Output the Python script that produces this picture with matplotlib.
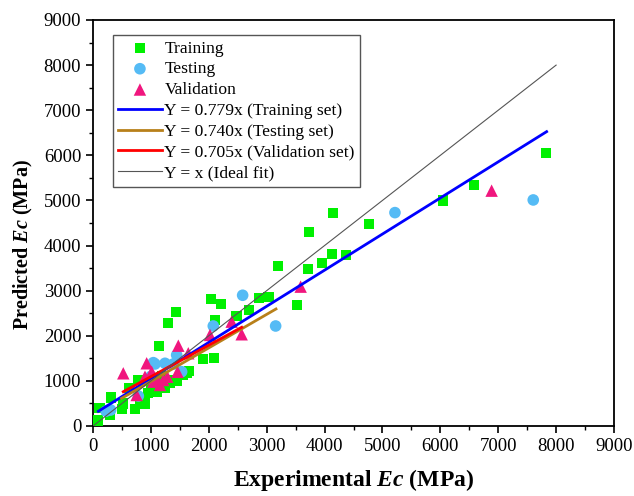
import matplotlib
matplotlib.use("Agg")
import matplotlib.pyplot as plt
from matplotlib.ticker import MultipleLocator
import numpy as np

# 实验值 / 预测值 (MPa)
train_x = [35, 92, 110, 305, 294, 495, 725, 812, 523, 627, 782, 898, 955, 1013,
           1100, 1100, 1244, 1330, 1330, 1200, 1450, 1140, 1433, 1301, 1560, 1618,
           1663, 1905, 2090, 2038, 2216, 2107, 2481, 2694, 2873, 3034, 3200, 3518,
           3719, 3736, 3950, 4128, 4370, 4150, 4772, 6050, 6586, 7830]
train_y = [130, 120, 400, 630, 250, 370, 370, 540, 500, 836, 1020, 500, 725, 870,
           750, 836, 836, 960, 1020, 1100, 1000, 1780, 2521, 2277, 1131, 1168,
           1226, 1479, 1514, 2809, 2705, 2350, 2439, 2572, 2831, 2860, 3548, 2676,
           3481, 4295, 3621, 3820, 3785, 4716, 4479, 5000, 5344, 6047]

test_x = [225, 305, 783, 1000, 1042, 1071, 1244, 1387, 1445, 1531, 2078, 2585,
          3155, 5216, 7605]
test_y = [330, 355, 665, 1100, 1404, 1375, 1390, 1375, 1574, 1204, 2217, 2898,
          2217, 4730, 5011]

val_x = [523, 754, 898, 927, 1013, 1042, 1100, 1157, 1214, 1283, 1460, 1474,
         1646, 2021, 2395, 2568, 3587, 6886]
val_y = [1168, 687, 1093, 1390, 1204, 982, 1058, 909, 1020, 1093, 1200, 1780,
         1612, 2018, 2313, 2033, 3089, 5217]

# 拟合线端点
fit_train_x = [92, 7836]
fit_train_y = [326, 6525]
fit_test_x = [495, 3161]
fit_test_y = [614, 2594]
fit_val_x = [523, 2568]
fit_val_y = [760, 2188]
ideal_x = [0, 8000]
ideal_y = [0, 8000]

plt.rcParams["font.family"] = ["Liberation Serif", "DejaVu Serif"]
plt.rcParams["mathtext.fontset"] = "custom"
plt.rcParams["mathtext.it"] = "Liberation Serif:italic:bold"
plt.rcParams["mathtext.bf"] = "Liberation Serif:bold"

fig = plt.figure(figsize=(6.34, 4.96), dpi=100)
ax = fig.add_axes([93 / 634, 1 - 426 / 496, 521 / 634, 406 / 496])

ax.scatter(train_x, train_y, marker="s", s=55, color="#00f000", edgecolors="none",
           label="Training", zorder=3)
ax.scatter(test_x, test_y, marker="o", s=70, color="#55bbf5", edgecolors="none",
           label="Testing", zorder=3)
ax.scatter(val_x, val_y, marker="^", s=80, color="#f0167e", edgecolors="none",
           label="Validation", zorder=3)

ax.plot(fit_train_x, fit_train_y, color="#0000ff", lw=2.0,
        label="Y = 0.779x (Training set)", zorder=4)
ax.plot(fit_test_x, fit_test_y, color="#b8801a", lw=2.0,
        label="Y = 0.740x (Testing set)", zorder=4)
ax.plot(fit_val_x, fit_val_y, color="#ff0000", lw=2.0,
        label="Y = 0.705x (Validation set)", zorder=4)
ax.plot(ideal_x, ideal_y, color="#555555", lw=0.8,
        label="Y = x (Ideal fit)", zorder=4)

ax.set_xlim(0, 9000)
ax.set_ylim(0, 9000)
ax.xaxis.set_major_locator(MultipleLocator(1000))
ax.yaxis.set_major_locator(MultipleLocator(1000))
ax.xaxis.set_minor_locator(MultipleLocator(500))
ax.yaxis.set_minor_locator(MultipleLocator(500))
ax.tick_params(which="major", direction="out", length=5, width=1.2, labelsize=13.5)
ax.tick_params(which="minor", direction="out", length=3, width=1.0)
for sp in ax.spines.values():
    sp.set_linewidth(1.3)

ax.set_xlabel(r"Experimental $\mathit{Ec}$ (MPa)", fontsize=17, fontweight="bold")
ax.set_ylabel(r"Predicted $\mathit{Ec}$ (MPa)", fontsize=14.5, fontweight="bold")
ax.xaxis.set_label_coords(0.5, -0.1)
ax.yaxis.set_label_coords(-0.111, 0.446)

leg = ax.legend(loc="upper left", bbox_to_anchor=(0.038, 0.963), borderaxespad=0,
                fontsize=12.6, labelspacing=0.26, handlelength=2.5,
                handletextpad=0.15, borderpad=0.3, fancybox=False,
                edgecolor="#555555", framealpha=1)
leg.get_frame().set_linewidth(1.0)

fig.savefig("out.png", dpi=100)
